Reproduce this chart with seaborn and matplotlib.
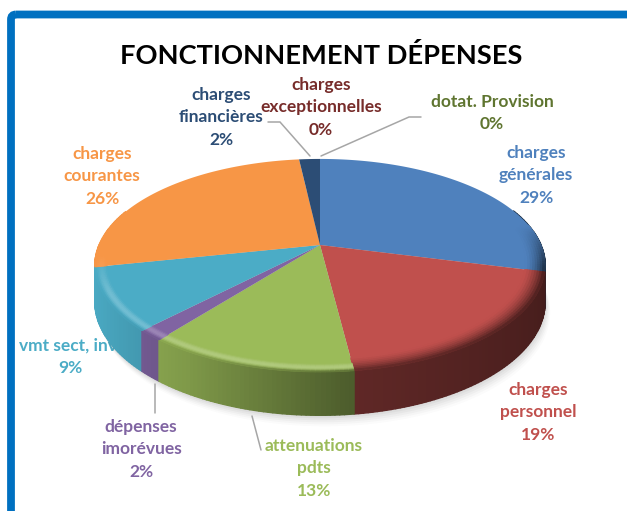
import numpy as np
import matplotlib
matplotlib.use("Agg")
import matplotlib.pyplot as plt
import matplotlib.transforms as mtransforms
from matplotlib.path import Path
from matplotlib.patches import FancyBboxPatch
from matplotlib.collections import PolyCollection
import seaborn as sns

# ---- data ----
categories = ["charges générales", "charges personnel", "attenuations pdts", "dépenses imorévues",
              "vmt sect, inv.", "charges courantes", "charges financières", "charges exceptionnelles",
              "dotat. Provision"]
label_lines = [["charges", "générales"], ["charges", "personnel"], ["attenuations", "pdts"],
               ["dépenses", "imorévues"], ["vmt sect, inv."], ["charges", "courantes"],
               ["charges", "financières"], ["charges", "exceptionnelles"], ["dotat. Provision"]]
values = [29, 19, 12.6, 1.6, 9.49, 26.49, 1.8, 0, 0]
slice_colors = ["#4F81BD", "#C0504D", "#9BBB59", "#8064A2", "#4BACC6", "#F79646", "#2C4D75", "#772C2A", "#5F7530"]
label_centers_x = [536, 538, 314, 141, 70, 102, 221, 321, 492]
label_first_y = [153, 390, 446, 427, 346, 154, 95, 85, 102]
title = "FONCTIONNEMENT DÉPENSES"

# ---- style ----
sns.set_theme(style="white")
plt.rcParams["font.family"] = ["Lato", "DejaVu Sans"]
palette = sns.color_palette(slice_colors)
soft_edge = {"charges générales", "charges personnel"}

CX, CY, A, B, K, DEPTH = 320.0, 245.0, 221.0, 102.6, 0.192, 35.0
LINE = 22.4


def project(u, v):
    w = 1 + K * v
    return CX + A * u / w, CY - B * v / w


class Perspective(mtransforms.Transform):
    input_dims = output_dims = 2
    is_separable = False
    has_inverse = False

    def transform_non_affine(self, values):
        x, y = project(values[:, 0], values[:, 1])
        return np.column_stack([x, y])

    def transform_path_non_affine(self, path):
        # flatten at a large scale so the arc stays smooth
        big = path.transformed(mtransforms.Affine2D().scale(2000))
        polys = big.to_polygons(closed_only=False)
        pts = polys[0] / 2000 if len(polys) else np.zeros((1, 2))
        return Path(self.transform_non_affine(pts))


fig = plt.figure(figsize=(6.27, 5.11), dpi=100, facecolor="white")
ax = fig.add_axes([0, 0, 1, 1])
wedges, _ = ax.pie(values, colors=palette, startangle=90, counterclock=False,
                   radius=1, center=(0, 0), wedgeprops={"linewidth": 0})
ax.set_aspect("auto")
ax.set_xlim(0, 627)
ax.set_ylim(511, 0)
ax.axis("off")

persp = Perspective()
for w in wedges:
    w.set_transform(persp + ax.transData)
    w.set_zorder(6)
    w.set_clip_on(False)

# frame
ax.add_patch(FancyBboxPatch((11, 14.5), 700, 600, boxstyle="round,pad=0,rounding_size=5",
                            fc="none", ec="#0070C0", lw=5.6, zorder=1))


def side_factor(u):
    return np.interp(u, [-1, -0.5, 0.1, 0.9, 1], [1.0, 0.82, 0.5, 0.38, 0.34])


# shadow under the disc
theta = np.radians(np.linspace(0, 360, 361))
sx, sy = project(np.cos(theta), np.sin(theta))
sd = DEPTH / (1 + K * np.sin(theta))
for off, alpha in zip(range(11, 0, -2), [0.025, 0.03, 0.04, 0.05, 0.06, 0.07]):
    ax.fill(sx + off * 0.45, sy + sd + off, color="#555555", alpha=alpha, lw=0, zorder=3)

# side wall and rim, one colour per slice
side_polys, side_cols, side_depth = [], [], []
rim_polys, rim_cols = [], []
for w, col, name in zip(wedges, palette, categories):
    if w.theta2 - w.theta1 < 1e-6:
        continue
    base = np.array(col)
    soft = name in soft_edge
    n = max(int((w.theta2 - w.theta1) / 1.0), 2)
    t = np.radians(np.linspace(w.theta1, w.theta2, n + 1))
    for a0, a1 in zip(t[:-1], t[1:]):
        am = 0.5 * (a0 + a1)
        um, vm = np.cos(am), np.sin(am)
        f = side_factor(um)
        x0, y0 = project(np.cos(a0), np.sin(a0))
        x1, y1 = project(np.cos(a1), np.sin(a1))
        d0 = DEPTH / (1 + K * np.sin(a0))
        d1 = DEPTH / (1 + K * np.sin(a1))
        if vm < 0.35:
            side_polys.append([(x0, y0), (x1, y1), (x1, y1 + d1), (x0, y0 + d0)])
            side_cols.append(np.clip(base * f, 0, 1))
            side_depth.append(-vm)
        # bevel on the top face
        if um < 0:
            g = np.clip((-0.1 - vm) / 0.35, 0, 1)
        else:
            g = np.clip((0.2 - vm) / 0.4, 0, 1)
        if g > 0:
            inner = 0.915 if soft else 0.95
            radii = np.linspace(inner, 1.0, 9)
            hl = 0 if soft else 0.22
            for r0, r1 in zip(radii[:-1], radii[1:]):
                s = (0.5 * (r0 + r1) - inner) / (1.0 - inner)
                lit = base + (1 - base) * hl * np.sin(np.pi * min(s * 1.1, 1)) * g
                mix = (s ** 1.6 if soft else np.clip((s - 0.55) / 0.45, 0, 1) ** 2) * g
                c = np.clip(lit * (1 - mix) + base * f * mix, 0, 1)
                p = [project(r0 * np.cos(a0), r0 * np.sin(a0)), project(r0 * np.cos(a1), r0 * np.sin(a1)),
                     project(r1 * np.cos(a1), r1 * np.sin(a1)), project(r1 * np.cos(a0), r1 * np.sin(a0))]
                rim_polys.append(p)
                rim_cols.append(c)

order = np.argsort(side_depth)
ax.add_collection(PolyCollection([side_polys[i] for i in order],
                                 facecolors=[side_cols[i] for i in order],
                                 edgecolors=[side_cols[i] for i in order], linewidths=1.0, zorder=5))
ax.add_collection(PolyCollection(rim_polys, facecolors=rim_cols, edgecolors=rim_cols, linewidths=0.6, zorder=7))

# leader lines
for xs, ys in [([268, 280, 310], [122, 122, 156]), ([421, 409, 321], [117, 117, 156]),
               ([155, 155], [384, 413]), ([252, 261], [416, 450])]:
    ax.plot(xs, ys, color="#A6A6A6", lw=1.1, zorder=8, solid_joinstyle="miter")

# labels
for lines, val, col, lx, ly in zip(label_lines, values, palette, label_centers_x, label_first_y):
    for i, txt in enumerate(lines + [f"{round(val)}%"]):
        ax.text(lx, ly + i * LINE, txt, color=col, ha="center", va="center",
                fontsize=12.5, fontweight="bold", zorder=2 if txt.startswith("vmt") else 9)

ax.text(321, 55, title, color="black", ha="center", va="center", fontsize=19.6, fontweight="bold", zorder=9)

fig.savefig("out.png", dpi=100)
